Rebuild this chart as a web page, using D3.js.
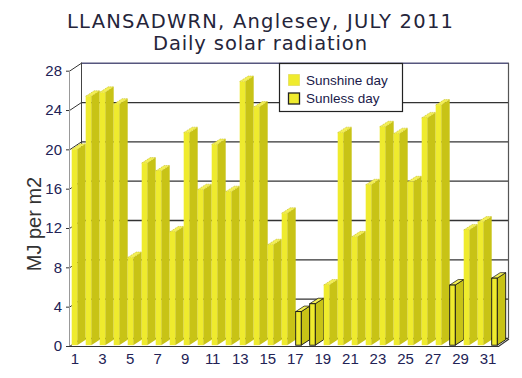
<!DOCTYPE html>
<html><head><meta charset="utf-8">
<script src="https://cdn.jsdelivr.net/npm/d3@7/dist/d3.min.js"></script>
<style>body{margin:0;background:#fff}svg{display:block}</style>
</head><body><svg id="c" width="522" height="378"></svg>
<script>
// ---- data ----
const days = [1,2,3,4,5,6,7,8,9,10,11,12,13,14,15,16,17,18,19,20,21,22,23,24,25,26,27,28,29,30,31];
const radiation = [20.0,25.4,25.8,24.6,9.0,18.6,17.8,11.6,21.7,15.9,20.5,15.7,26.9,24.3,10.3,13.5,3.5,4.3,6.2,21.7,11.1,16.4,22.3,21.6,16.7,23.2,24.5,6.2,11.8,12.6,6.9];
const sunlessDays = [17,18,28,31];
const yTicks = [0,4,8,12,16,20,24,28];
const xTickLabels = ["1","3","5","7","9","11","13","15","17","19","21","23","25","27","29","31"];
const titleLines = ["LLANSADWRN, Anglesey, JULY 2011","Daily solar radiation"];
const yTitle = "MJ per m2";
const legendItems = ["Sunshine day","Sunless day"];

// ---- layout ----
const svg = d3.select("#c");
const y = d3.scaleLinear().domain([0,28]).range([346,70.7]);
const xBar = d3.scaleBand().domain(days).range([69.7,503.7]).padding(0);
const xLab = d3.scaleBand().domain(days.map(String)).range([68.1,495]).padding(0);
const wallDX = 12, wallDY = 8;
const faceW = 5.5, barDX = 8.5, barDY = 5.5;
const cFront = "#efeb2e", cSide = "#c8c316", cTop = "#f3ef55";

// back wall gridlines
svg.append("g").selectAll("line").data(yTicks).join("line")
  .attr("x1",69+wallDX).attr("x2",508.5)
  .attr("y1",d=>y(d)-wallDY+0.5).attr("y2",d=>y(d)-wallDY+0.5)
  .attr("stroke",d=>d===28?"#56567e":"#333").attr("stroke-width",d=>d===28?1.6:1.3);
// back verticals
svg.append("line").attr("x1",81.5).attr("x2",81.5).attr("y1",y(28)-wallDY).attr("y2",y(0)-wallDY).attr("stroke","#444");
svg.append("line").attr("x1",508.5).attr("x2",508.5).attr("y1",y(28)-wallDY).attr("y2",y(0)-wallDY).attr("stroke","#555").attr("stroke-width",1.2);
// left wall diagonals and front axis
svg.append("g").selectAll("path").data(yTicks).join("path")
  .attr("d",d=>`M66,${y(d)+0.5}H69.5L${69.5+wallDX},${y(d)-wallDY+0.5}`)
  .attr("fill","none").attr("stroke","#333").attr("stroke-width",1);
svg.append("line").attr("x1",69.5).attr("x2",69.5).attr("y1",y(28)).attr("y2",y(0)).attr("stroke","#999");

// bars
const base = y(0)-0.8;
const gBars = svg.append("g");
days.forEach((d,i)=>{
  const v = radiation[i];
  const x = xBar(d)+2, t = y(v);
  const sunless = sunlessDays.includes(d);
  const g = gBars.append("g");
  const st = sunless ? "#111" : "none";
  g.append("polygon")
    .attr("points",[[x+faceW,t],[x+faceW+barDX,t-barDY],[x+faceW+barDX,base-barDY],[x+faceW,base]].join(" "))
    .attr("fill",cSide).attr("stroke",st).attr("stroke-width",0.9);
  g.append("polygon")
    .attr("points",[[x,t],[x+faceW,t],[x+faceW+barDX,t-barDY],[x+barDX,t-barDY]].join(" "))
    .attr("fill",cTop).attr("stroke",sunless?"#111":"#bdb514").attr("stroke-width",0.7)
    .attr("stroke-dasharray",sunless?null:"1,1");
  g.append("rect").attr("x",x).attr("y",t).attr("width",faceW).attr("height",base-t)
    .attr("fill",cFront).attr("stroke",st).attr("stroke-width",0.9);
});

// floor front edge
svg.append("path").attr("d",`M69,346.5H498.5L509,339`).attr("fill","none").attr("stroke","#333").attr("stroke-width",1.2);

// y tick labels
svg.append("g").selectAll("text").data(yTicks).join("text")
  .attr("x",62).attr("y",d=>y(d)+5.3).attr("text-anchor","end")
  .attr("font-family","Liberation Sans, Arial, sans-serif").attr("font-size",15).attr("fill","#222255")
  .text(d=>d);
// x tick labels
svg.append("g").selectAll("text").data(xTickLabels).join("text")
  .attr("x",d=>xLab(d)+xLab.bandwidth()/2).attr("y",363.5).attr("text-anchor","middle")
  .attr("font-family","Liberation Sans, Arial, sans-serif").attr("font-size",15).attr("fill","#222255")
  .text(d=>d);

// y title
svg.append("text").attr("transform","translate(41,224) rotate(-90)").attr("text-anchor","middle")
  .attr("font-family","Liberation Sans, Arial, sans-serif").attr("font-size",20).attr("fill","#333")
  .text(yTitle);

// titles
svg.append("text").attr("x",260).attr("y",28).attr("text-anchor","middle")
  .attr("font-family","DejaVu Sans, sans-serif").attr("font-size",19.5).attr("fill","#25253a")
  .attr("textLength",386).attr("lengthAdjust","spacing").text(titleLines[0]);
svg.append("text").attr("x",260).attr("y",50).attr("text-anchor","middle")
  .attr("font-family","DejaVu Sans, sans-serif").attr("font-size",19.5).attr("fill","#25253a")
  .attr("textLength",214).attr("lengthAdjust","spacing").text(titleLines[1]);

// legend
const lg = svg.append("g");
lg.append("rect").attr("x",279.5).attr("y",63.5).attr("width",123).attr("height",48)
  .attr("fill","#fff").attr("stroke","#222").attr("stroke-width",1.2);
legendItems.forEach((t,i)=>{
  lg.append("rect").attr("x",288.5).attr("y",74.5+i*18.5).attr("width",11).attr("height",11)
    .attr("fill",cFront).attr("stroke",i===0?"#d6cf3c":"#222").attr("stroke-width",i===0?1:1.3)
    .attr("stroke-dasharray",i===0?"1,1":null);
  lg.append("text").attr("x",306).attr("y",84.5+i*18).attr("font-family","Liberation Sans, Arial, sans-serif")
    .attr("font-size",13.5).attr("fill","#1a1a4a").text(t);
});
</script></body></html>
